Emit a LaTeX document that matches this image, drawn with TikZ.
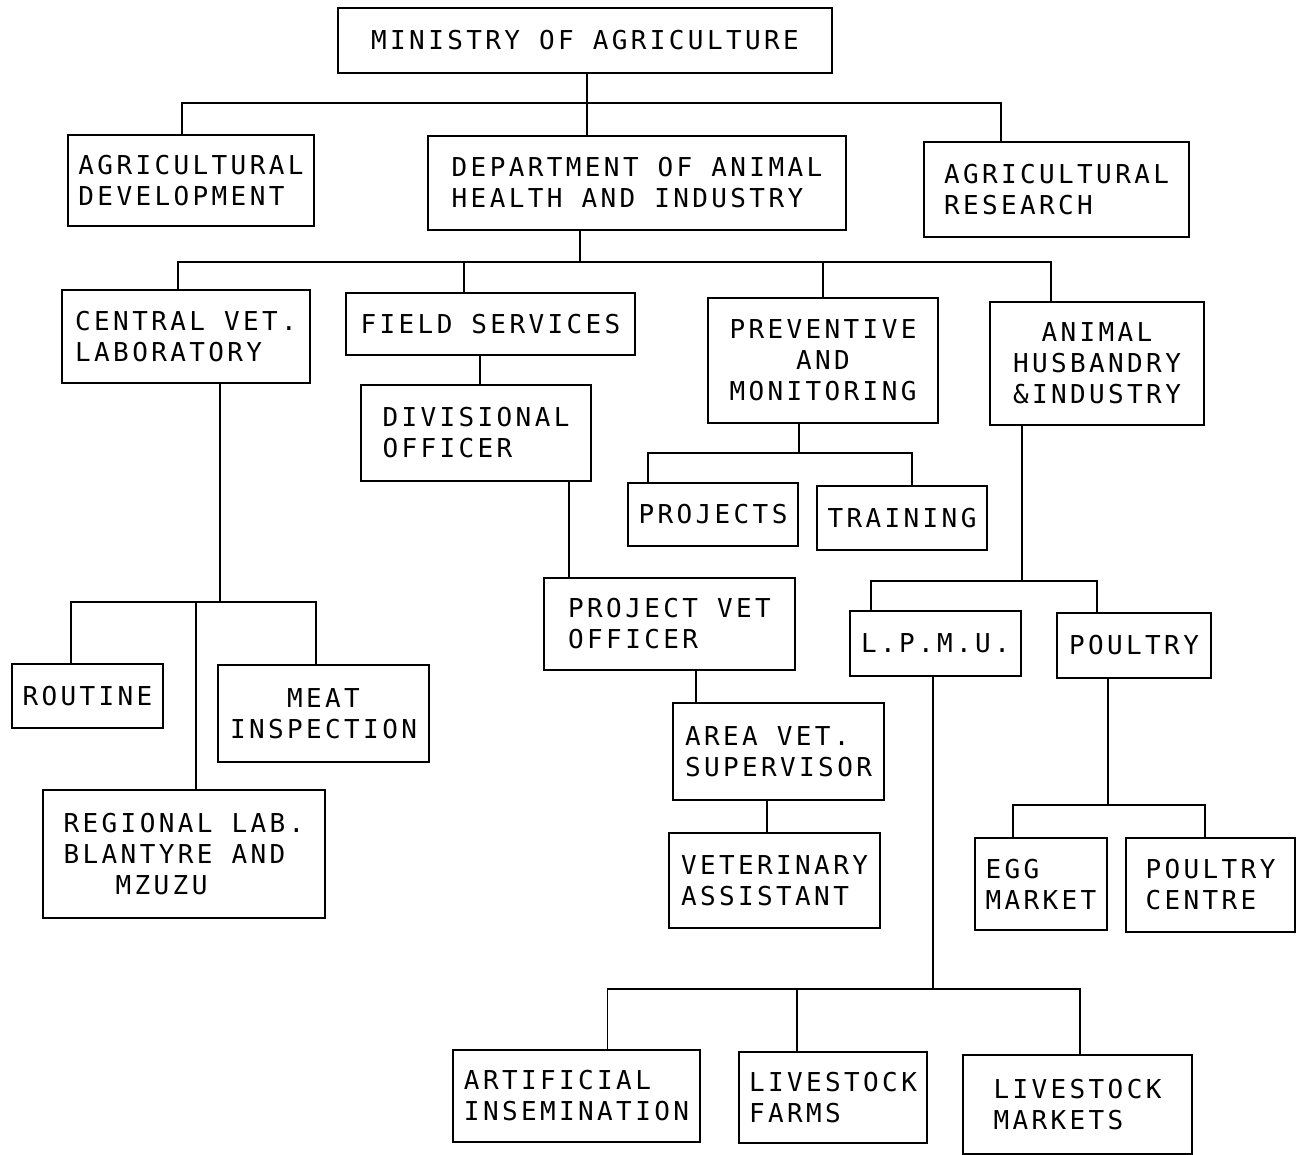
\documentclass[tikz,border=0pt]{standalone}
\usepackage{fontspec}
\newfontfamily\plotfont[LetterSpace=13]{DejaVu Sans Mono}
\usepackage{tikz}
\usetikzlibrary{calc}

\tikzset{
  unitbox/.style 2 args={draw, line width=0.9pt, inner sep=0pt,
    minimum width=#1*0.5pt, minimum height=#2*0.5pt,
    font=\plotfont\fontsize{13}{15.5}\selectfont, align=left},
  link/.style={line width=0.9pt}
}

\begin{document}
\begin{tikzpicture}[x=0.5pt, y=-0.5pt]
	\useasboundingbox (0,0) rectangle (1301,1155);

	% top level
	\node (min) at (585,40.5)[unitbox={494}{65}, align=center]{MINISTRY OF AGRICULTURE};
	\node (dev) at (191,180.5)[unitbox={246}{91}]{AGRICULTURAL\\DEVELOPMENT};
	\node (dept) at (637,183)[unitbox={418}{94}]{DEPARTMENT OF ANIMAL\\HEALTH AND INDUSTRY};
	\node (res) at (1056.5,189.5)[unitbox={265}{95}]{AGRICULTURAL\\RESEARCH};

	% divisions
	\node (cvl) at (186,336.5)[unitbox={248}{93}]{CENTRAL VET.\\LABORATORY};
	\node (fs) at (490.5,324)[unitbox={289}{62}]{FIELD SERVICES};
	\node (prev) at (823,360.5)[unitbox={230}{125}, align=center]{PREVENTIVE\\AND\\MONITORING};
	\node (ahi) at (1097,363.5)[unitbox={214}{123}, align=center]{ANIMAL\\HUSBANDRY\\\&INDUSTRY};

	% laboratory
	\node (routine) at (87.5,696)[unitbox={151}{64}]{ROUTINE};
	\node (meat) at (323.5,713.5)[unitbox={211}{97}, align=center]{MEAT\\INSPECTION};
	\node (reg) at (184,854)[unitbox={282}{128}]{REGIONAL LAB.\\BLANTYRE AND\\\hspace*{26pt}MZUZU};

	% field services
	\node (div) at (476,433)[unitbox={230}{96}]{DIVISIONAL\\OFFICER};
	\node (pvo) at (669.5,624)[unitbox={251}{92}]{PROJECT VET\\OFFICER};
	\node (avs) at (778.5,751.5)[unitbox={211}{97}]{AREA VET.\\SUPERVISOR};
	\node (va) at (774.5,880.5)[unitbox={211}{95}]{VETERINARY\\ASSISTANT};

	% preventive
	\node (proj) at (713,514.5)[unitbox={170}{63}]{PROJECTS};
	\node (train) at (902,518)[unitbox={170}{64}]{TRAINING};

	% husbandry
	\node (lpmu) at (935.5,643.5)[unitbox={171}{65}]{L.P.M.U.};
	\node (poul) at (1134,645.5)[unitbox={154}{65}]{POULTRY};
	\node (egg) at (1041,884)[unitbox={132}{92}]{EGG\\MARKET};
	\node (pc) at (1210.5,885)[unitbox={169}{94}]{POULTRY\\CENTRE};
	\node (ai) at (576.5,1096)[unitbox={247}{92}]{ARTIFICIAL\\INSEMINATION};
	\node (lf) at (833,1097.5)[unitbox={188}{91}]{LIVESTOCK\\FARMS};
	\node (lm) at (1077.5,1104.5)[unitbox={229}{99}]{LIVESTOCK\\MARKETS};

	% bus points
	\coordinate (busA) at (587,103);
	\coordinate (busB) at (580,262);
	\coordinate (busD) at (799,453);
	\coordinate (busH) at (1022,581);
	\coordinate (busI) at (1108,805);
	\coordinate (busJ) at (933,989);
	\coordinate (busK) at (220,602);
	\coordinate (fsIn) at ($(fs.north)+(-26.5,0)$);
	\coordinate (lfIn) at ($(lf.north)+(-36,0)$);
	\coordinate (regIn) at ($(reg.north)+(12,0)$);

	\draw[link] (min.south -| busA) -- (busA |- dept.north);
	\draw[link] ($(dev.north)+(-9,0)$) |- (busA) -| ($(res.north)+(-55.5,0)$);

	\draw[link] (busB |- dept.south) -- (busB);
	\draw[link] ($(cvl.north)+(-8,0)$) |- (busB) -| ($(ahi.north)+(-46,0)$);
	\draw[link] (fsIn) -- (fsIn |- busB);
	\draw[link] (prev.north) -- (prev.north |- busB);

	\draw[link] ($(fs.south)+(-10.5,0)$) -- ($(div.north)+(4,0)$);
	\draw[link] ($(div.south)+(93,0)$) -- ($(pvo.north)+(-100.5,0)$);
	\draw[link] ($(pvo.south)+(26.5,0)$) -- ($(avs.north)+(-82.5,0)$);
	\draw[link] ($(avs.south)+(-11.5,0)$) -- ($(va.north)+(-7.5,0)$);

	\draw[link] (busD |- prev.south) -- (busD);
	\draw[link] ($(proj.north)+(-65,0)$) |- (busD) -| ($(train.north)+(10,0)$);

	\draw[link] (busH |- ahi.south) -- (busH);
	\draw[link] ($(lpmu.north)+(-64.5,0)$) |- (busH) -| ($(poul.north)+(-37,0)$);

	\draw[link] (busI |- poul.south) -- (busI);
	\draw[link] ($(egg.north)+(-28,0)$) |- (busI) -| ($(pc.north)+(-5.5,0)$);

	\draw[link] (busJ |- lpmu.south) -- (busJ);
	\draw[link] ($(ai.north)+(31,0)$) |- (busJ) -| ($(lm.north)+(2.5,0)$);
	\draw[link] (lfIn) -- (lfIn |- busJ);

	\draw[link] (busK |- cvl.south) -- (busK);
	\draw[link] ($(routine.north)+(-16.5,0)$) |- (busK) -| ($(meat.north)+(-7.5,0)$);
	\draw[link] (regIn) -- (regIn |- busK);
\end{tikzpicture}
\end{document}
